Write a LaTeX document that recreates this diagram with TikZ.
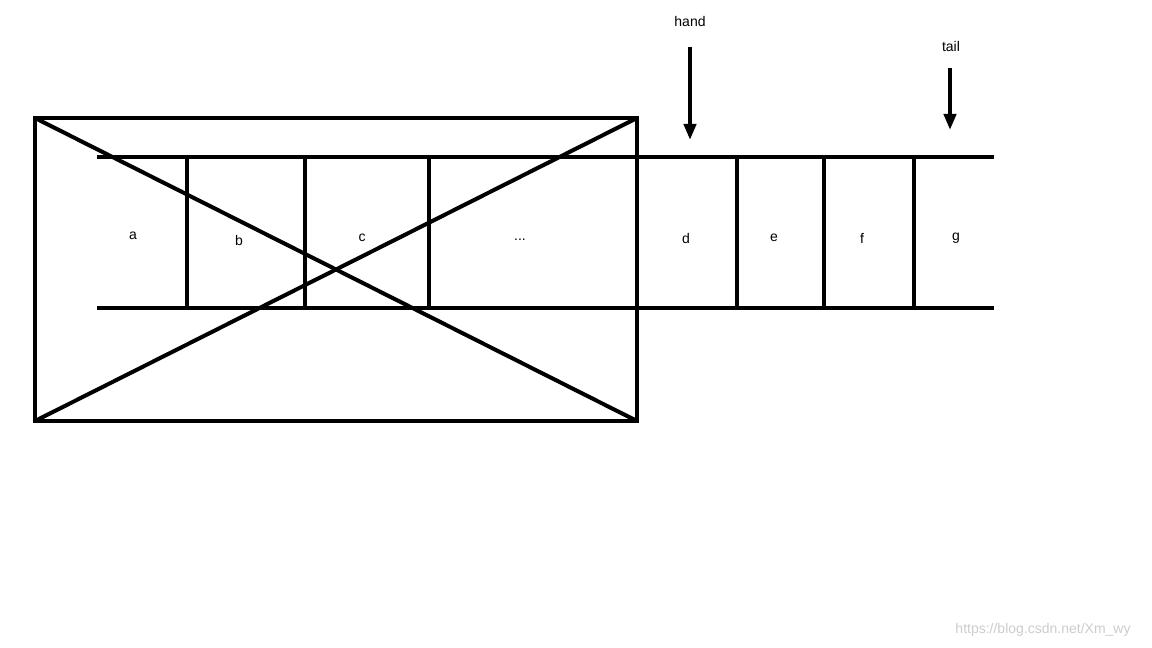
\documentclass[tikz,border=0pt]{standalone}
\usepackage{fontspec}
\setmainfont{Liberation Sans}
\usetikzlibrary{arrows.meta}
\begin{document}
\begin{tikzpicture}[x=0.75pt,y=-0.75pt,
  thick line/.style={line width=3pt},
  lbl/.style={font=\fontsize{10.5}{12}\selectfont},
  ptr/.style={line width=3pt,-{Triangle[length=12pt,width=9pt]}}]
\useasboundingbox (0,0) rectangle (1152,648);
\coordinate (tl) at (97,157); \coordinate (tr) at (994,157);
\coordinate (bl) at (97,308); \coordinate (br) at (994,308);
\draw[thick line] (tl) -- (tr);
\draw[thick line] (bl) -- (br);
\foreach \x in {187,305,429,737,824,914}
  \draw[thick line] (\x,157) -- (\x,308);
\coordinate (b1) at (35,118); \coordinate (b2) at (637,421);
\draw[thick line] (b1) rectangle (b2);
\draw[thick line] (35,118) -- (637,421);
\draw[thick line] (35,421) -- (637,118);
\node[lbl] (hand) at (690,22) {hand};
\node[lbl] (tail) at (951,47) {tail};
\coordinate (h1) at (690,47); \coordinate (h2) at (690,140);
\coordinate (t1) at (950,68); \coordinate (t2) at (950,130);
\draw[ptr] (h1) -- (h2);
\draw[ptr] (t1) -- (t2);
\node[lbl] (a) at (133,236) {a};
\node[lbl] (b) at (239,240) {b};
\node[lbl] (c) at (362,238) {c};
\node[lbl] (dots) at (520,240) {...};
\node[lbl] (d) at (686,238) {d};
\node[lbl] (e) at (774,238) {e};
\node[lbl] (f) at (862,238) {f};
\node[lbl] (g) at (956,238) {g};
\node[lbl,text=black!20] (wm) at (1043,630) {https://blog.csdn.net/Xm\_wy};
\end{tikzpicture}
\end{document}
